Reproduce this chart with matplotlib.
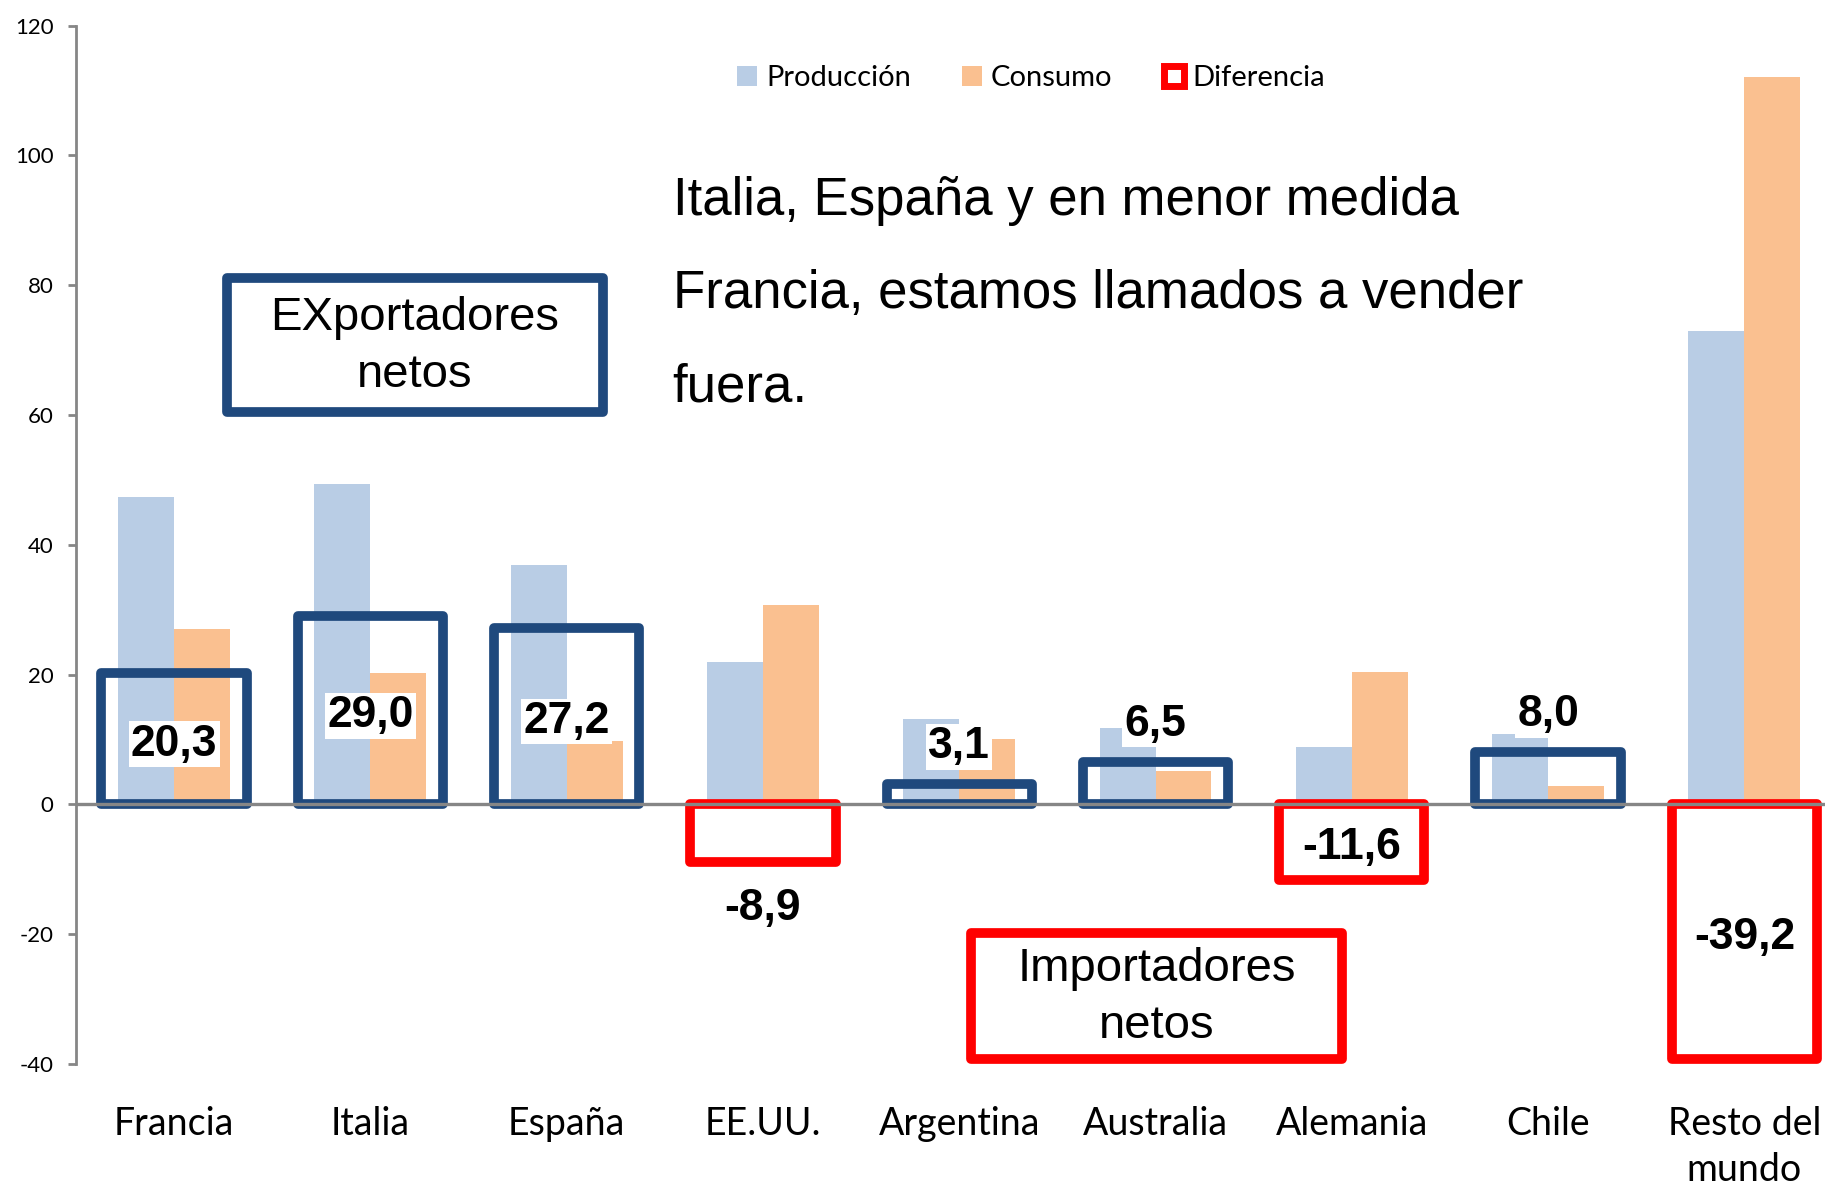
import matplotlib.pyplot as plt
import numpy as np
from matplotlib.patches import Patch, Rectangle

plt.rcParams["font.family"] = ["Lato", "DejaVu Sans"]

categories = ["Francia", "Italia", "España", "EE.UU.", "Argentina", "Australia",
              "Alemania", "Chile", "Resto del\nmundo"]
produccion = [47.4, 49.3, 36.9, 21.9, 13.2, 11.7, 8.8, 10.9, 72.9]
consumo = [27.1, 20.3, 9.7, 30.8, 10.1, 5.2, 20.4, 2.9, 112.1]
diferencia = [20.3, 29.0, 27.2, -8.9, 3.1, 6.5, -11.6, 8.0, -39.2]
yticks = [-40, -20, 0, 20, 40, 60, 80, 100, 120]

c_prod = "#B9CDE5"
c_cons = "#FAC090"
c_pos = "#1F497D"
c_neg = "#FF0000"
c_axis = "#868686"

fig = plt.figure(figsize=(18.25, 11.89), dpi=100)
ax = fig.add_axes([0.0416, 0.1051, 0.968, 0.8734])

x = np.arange(len(categories))
bw = 0.285
ax.bar(x - bw / 2, produccion, width=bw, color=c_prod, zorder=2)
ax.bar(x + bw / 2, consumo, width=bw, color=c_cons, zorder=2)

edge_cols = [c_pos if v >= 0 else c_neg for v in diferencia]
dbars = ax.bar(x, diferencia, width=0.74, fill=False, edgecolor=edge_cols,
               linewidth=7, zorder=3)
for b in dbars:
    b.set_joinstyle("round")

ax.axhline(0, color=c_axis, lw=2.4, zorder=4)

# data labels
for xi, v in zip(x, diferencia):
    txt = f"{v:.1f}".replace(".", ",")
    if abs(v) >= 10:
        off = -4
        yy = v / 2
    else:
        off = 27 if v > 0 else -33
        yy = v
    ax.annotate(txt, (xi, yy), xytext=(0, off), textcoords="offset points",
                ha="center", va="center", fontsize=32, fontweight="bold",
                family=["Liberation Sans", "DejaVu Sans"], zorder=6,
                bbox=dict(boxstyle="square,pad=0.05", fc="white", ec="none"))

# annotation boxes
for (x0, x1, y0, y1, col, label) in [
        (0.268, 2.185, 60.5, 81.1, c_pos, "EXportadores\nnetos"),
        (4.06, 5.95, -39.2, -19.8, c_neg, "Importadores\nnetos")]:
    r = Rectangle((x0, y0), x1 - x0, y1 - y0, fill=False, edgecolor=col,
                  linewidth=7, zorder=5)
    r.set_joinstyle("round")
    ax.add_patch(r)
    ax.text((x0 + x1) / 2, (y0 + y1) / 2 - 0.3, label, ha="center", va="center",
            fontsize=34, family=["Liberation Sans", "DejaVu Sans"],
            linespacing=1.38, zorder=6)

ax.text(2.54, 78.6,
        "Italia, España y en menor medida\nFrancia, estamos llamados a vender\nfuera.",
        ha="left", va="center", fontsize=38, linespacing=2.12,
        family=["Liberation Sans", "DejaVu Sans"], zorder=6)

handles = [Patch(facecolor=c_prod, edgecolor="none"),
           Patch(facecolor=c_cons, edgecolor="none"),
           Patch(facecolor="white", edgecolor=c_neg, linewidth=5)]
fig.legend(handles, ["Producción", "Consumo", "Diferencia"], loc="center",
           bbox_to_anchor=(0.565, 0.934), ncol=3, frameon=False, fontsize=21,
           handlelength=0.7, handleheight=0.7, handletextpad=0.3,
           columnspacing=1.75)

ax.set_xlim(-0.5, 8.5)
ax.set_ylim(-40, 120)
ax.set_yticks(yticks)
ax.set_yticklabels([str(t) for t in yticks])
ax.set_xticks(x)
ax.set_xticklabels(categories, linespacing=1.35)
ax.tick_params(axis="x", length=0, labelsize=27, pad=30)
ax.tick_params(axis="y", direction="out", length=6, width=2, color=c_axis,
               labelsize=16, pad=10)
for s in ["top", "right", "bottom"]:
    ax.spines[s].set_visible(False)
ax.spines["left"].set_color(c_axis)
ax.spines["left"].set_linewidth(2)

fig.savefig("out.png", dpi=100)
